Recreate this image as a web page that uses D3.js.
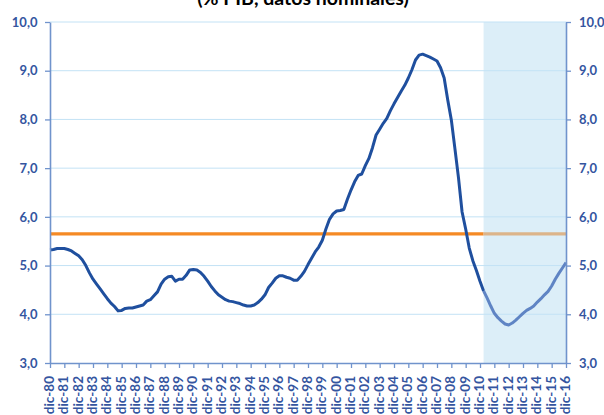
<!DOCTYPE html>
<html>
<head>
<meta charset="utf-8">
<script src="https://cdn.jsdelivr.net/npm/d3@7"></script>
<style>
  html, body { margin: 0; padding: 0; background: #ffffff; }
  svg { display: block; }
</style>
</head>
<body>
<svg id="chart" width="604" height="415"></svg>
<script>
// Year-end labels, one per December
const yearLabels = ["dic-80","dic-81","dic-82","dic-83","dic-84","dic-85","dic-86","dic-87","dic-88","dic-89",
  "dic-90","dic-91","dic-92","dic-93","dic-94","dic-95","dic-96","dic-97","dic-98","dic-99",
  "dic-00","dic-01","dic-02","dic-03","dic-04","dic-05","dic-06","dic-07","dic-08","dic-09",
  "dic-10","dic-11","dic-12","dic-13","dic-14","dic-15","dic-16"];

// Quarterly series (% PIB), Q4 1980 .. Q4 2016
const quarterlyValues = [
  5.32, 5.33, 5.35, 5.35, 5.35, 5.33, 5.30, 5.25, 5.20, 5.12,
  5.00, 4.85, 4.72, 4.62, 4.52, 4.42, 4.32, 4.23, 4.16, 4.07,
  4.08, 4.12, 4.13, 4.13, 4.15, 4.17, 4.19, 4.27, 4.30, 4.38,
  4.46, 4.62, 4.72, 4.77, 4.78, 4.68, 4.72, 4.72, 4.80, 4.91,
  4.92, 4.91, 4.86, 4.78, 4.68, 4.57, 4.48, 4.40, 4.35, 4.30,
  4.27, 4.26, 4.24, 4.22, 4.19, 4.17, 4.17, 4.19, 4.24, 4.31,
  4.40, 4.55, 4.64, 4.74, 4.79, 4.79, 4.76, 4.74, 4.70, 4.70,
  4.78, 4.88, 5.02, 5.15, 5.28, 5.38, 5.52, 5.75, 5.95, 6.06,
  6.12, 6.13, 6.15, 6.36, 6.55, 6.72, 6.85, 6.88, 7.05, 7.20,
  7.42, 7.68, 7.80, 7.92, 8.02, 8.18, 8.32, 8.45, 8.58, 8.70,
  8.85, 9.02, 9.22, 9.32, 9.34, 9.31, 9.28, 9.24, 9.20, 9.06,
  8.85, 8.40, 7.99, 7.40, 6.80, 6.10, 5.75, 5.36, 5.10, 4.90,
  4.68, 4.48, 4.33, 4.17, 4.02, 3.93, 3.86, 3.80, 3.78, 3.82,
  3.88, 3.95, 4.02, 4.08, 4.12, 4.17, 4.25, 4.32, 4.40, 4.47,
  4.58, 4.72, 4.84, 4.95, 5.06
];

// First quarter of the projected stretch (mar-11)
const projectionStart = 121;

// Long-run average level
const averageValue = [5.65];

const yTicks = [3, 4, 5, 6, 7, 8, 9, 10];
const titleText = "(% PIB, datos nominales)";

const svg = d3.select("#chart");
const plot = { left: 50, right: 566, top: 22, bottom: 363 };
const labelColor = "#34559f";
const axisColor = "#7093cc";
const fontFamily = "Lato, 'Open Sans', sans-serif";

const quarterIndex = d3.range(quarterlyValues.length);
const x = d3.scaleLinear().domain([0, quarterlyValues.length - 1]).range([plot.left, plot.right]);
const y = d3.scaleLinear().domain([3, 10]).range([plot.bottom, plot.top]);
const fmt = v => d3.format(".1f")(v).replace(".", ",");

// Title (top of the page)
svg.append("text")
  .attr("x", 303).attr("y", 4.5)
  .attr("text-anchor", "middle")
  .attr("font-family", fontFamily)
  .attr("font-weight", "bold")
  .attr("font-size", 19.5)
  .attr("fill", "#000")
  .text(titleText);

// Projection shading
svg.append("rect")
  .attr("x", x(projectionStart)).attr("y", y(10))
  .attr("width", x(quarterlyValues.length - 1) - x(projectionStart))
  .attr("height", y(3) - y(10))
  .attr("fill", "#dceef8");

// Horizontal gridlines
svg.append("g").selectAll("line")
  .data(yTicks.filter(d => d > 3))
  .join("line")
  .attr("x1", plot.left).attr("x2", plot.right)
  .attr("y1", d => y(d)).attr("y2", d => y(d))
  .attr("stroke", "#c3e2f5").attr("stroke-width", 1);

// Average line, bright before the projection and muted inside it
svg.append("line")
  .attr("x1", x(0)).attr("x2", x(projectionStart))
  .attr("y1", y(averageValue[0])).attr("y2", y(averageValue[0]))
  .attr("stroke", "#f58a25").attr("stroke-width", 3.2);
svg.append("line")
  .attr("x1", x(projectionStart)).attr("x2", x(quarterlyValues.length - 1))
  .attr("y1", y(averageValue[0])).attr("y2", y(averageValue[0]))
  .attr("stroke", "#dcb48a").attr("stroke-width", 3.2);

// Series line
const line = d3.line()
  .x(i => x(i))
  .y(i => y(quarterlyValues[i]))
  .curve(d3.curveLinear);

svg.append("path")
  .datum(quarterIndex.filter(i => i <= projectionStart))
  .attr("d", line)
  .attr("fill", "none")
  .attr("stroke", "#1f4f9e")
  .attr("stroke-width", 3)
  .attr("stroke-linejoin", "round");

svg.append("path")
  .datum(quarterIndex.filter(i => i >= projectionStart))
  .attr("d", line)
  .attr("fill", "none")
  .attr("stroke", "#5f84c4")
  .attr("stroke-width", 3)
  .attr("stroke-linejoin", "round");

// Axes
const yLeft = d3.axisLeft(y).tickValues(yTicks).tickFormat(fmt).tickSize(5).tickPadding(7.5);
const yRight = d3.axisRight(y).tickValues(yTicks).tickFormat(fmt).tickSize(5).tickPadding(8);
const xAxis = d3.axisBottom(x)
  .tickValues(yearLabels.map((d, i) => i * 4))
  .tickFormat((d, i) => yearLabels[i])
  .tickSize(5).tickSizeOuter(0);

function styleAxis(g) {
  g.select(".domain").attr("stroke", axisColor).attr("stroke-width", 1.6);
  g.selectAll(".tick line").attr("stroke", axisColor).attr("stroke-width", 1.3);
  g.selectAll(".tick text")
    .attr("fill", labelColor)
    .attr("font-family", fontFamily)
    .attr("font-weight", "bold");
}

svg.append("g").attr("transform", `translate(${plot.left},0)`)
  .call(yLeft.tickSizeOuter(0)).call(styleAxis)
  .selectAll(".tick text").attr("font-size", 13);

svg.append("g").attr("transform", `translate(${plot.right},0)`)
  .call(yRight.tickSizeOuter(0)).call(styleAxis)
  .selectAll(".tick text").attr("font-size", 13);

const gx = svg.append("g").attr("transform", `translate(0,${plot.bottom})`)
  .call(xAxis).call(styleAxis);
gx.selectAll(".tick text")
  .attr("font-size", 13.5)
  .attr("text-anchor", "end")
  .attr("dy", "0.33em")
  .attr("transform", "translate(-1,13) rotate(-90)")
  .attr("x", 0).attr("y", 0);
</script>
</body>
</html>
